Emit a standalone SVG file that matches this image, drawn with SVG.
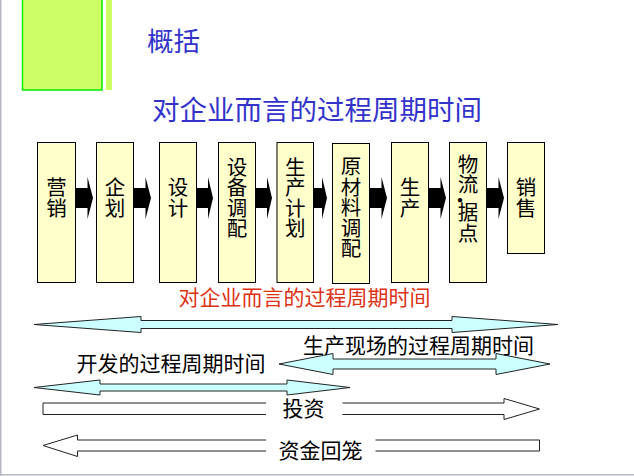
<svg xmlns="http://www.w3.org/2000/svg" width="634" height="476" viewBox="0 0 634 476">
<style>
text{font-family:"Noto Sans CJK SC","Noto Sans",sans-serif;}
.box{fill:#ffffcc;stroke:#000;stroke-width:1;}
.bt{font-size:20.5px;fill:#000;text-anchor:middle;}
.flow{fill:#000;}
.dbl{fill:#ccffff;stroke:#222;stroke-width:1;}
.out{fill:#fff;stroke:#222;stroke-width:1;}
.lbl{font-size:21px;fill:#000;}
.title{fill:#3333cc;}
</style>
<rect x="0" y="0" width="634" height="476" fill="#fff"/>
<line x1="0.75" y1="0" x2="0.75" y2="476" stroke="#b4b8c4" stroke-width="1.5"/>
<line x1="0" y1="474.75" x2="634" y2="474.75" stroke="#b4b8c4" stroke-width="1.5"/>
<g id="deco">
<rect x="22.5" y="-1" width="79.5" height="91" fill="#ccff66" stroke="#00ee00" stroke-width="1.5"/>
<rect x="106" y="0" width="6" height="90" fill="#ccff66"/>
</g>
<g id="titles">
<text class="title" x="147" y="50.5" font-size="26.5">概括</text>
<text class="title" x="152" y="119.5" font-size="27.5">对企业而言的过程周期时间</text>
</g>
<g id="connectors">
<polygon class="flow" points="75.5,188 87.5,188 87.5,177 93,198 87.5,219 87.5,208 75.5,208"/>
<polygon class="flow" points="133.5,188 145.5,188 145.5,177 151,198 145.5,219 145.5,208 133.5,208"/>
<polygon class="flow" points="196.5,188 208,188 208,177 213,198 208,219 208,208 196.5,208"/>
<polygon class="flow" points="255.5,188 267,188 267,177 272,198 267,219 267,208 255.5,208"/>
<polygon class="flow" points="313.5,188 322,188 322,177 327,198 322,219 322,208 313.5,208"/>
<polygon class="flow" points="369.5,188 381.5,188 381.5,177 387,198 381.5,219 381.5,208 369.5,208"/>
<polygon class="flow" points="428.5,188 440.5,188 440.5,177 446,198 440.5,219 440.5,208 428.5,208"/>
<polygon class="flow" points="486.5,188 498.5,188 498.5,177 504,198 498.5,219 498.5,208 486.5,208"/>
</g>
<g id="n1"><rect class="box" x="37.5" y="142.5" width="38" height="140"/><text class="bt"><tspan x="56.5" y="195">营</tspan><tspan x="56.5" y="215.5">销</tspan></text></g>
<g id="n2"><rect class="box" x="96.5" y="142.5" width="37" height="140"/><text class="bt"><tspan x="115" y="195">企</tspan><tspan x="115" y="215.5">划</tspan></text></g>
<g id="n3"><rect class="box" x="159.5" y="142.5" width="37" height="140"/><text class="bt"><tspan x="178" y="195">设</tspan><tspan x="178" y="215.5">计</tspan></text></g>
<g id="n4"><rect class="box" x="218.5" y="142.5" width="37" height="140"/><text class="bt"><tspan x="237" y="174.5">设</tspan><tspan x="237" y="195">备</tspan><tspan x="237" y="215.5">调</tspan><tspan x="237" y="236">配</tspan></text></g>
<g id="n5"><rect class="box" x="277" y="142.5" width="36.5" height="140"/><text class="bt"><tspan x="295.2" y="174.5">生</tspan><tspan x="295.2" y="195">产</tspan><tspan x="295.2" y="215.5">计</tspan><tspan x="295.2" y="236">划</tspan></text></g>
<g id="n6"><rect class="box" x="332.5" y="143.5" width="37" height="140"/><text class="bt"><tspan x="351" y="174">原</tspan><tspan x="351" y="194.5">材</tspan><tspan x="351" y="215">料</tspan><tspan x="351" y="235.5">调</tspan><tspan x="351" y="256">配</tspan></text></g>
<g id="n7"><rect class="box" x="391.5" y="142.5" width="37" height="140"/><text class="bt"><tspan x="410" y="195">生</tspan><tspan x="410" y="215.5">产</tspan></text></g>
<g id="n8"><rect class="box" x="449.5" y="142.5" width="37" height="140"/><text class="bt"><tspan x="468" y="171.5">物</tspan><tspan x="468" y="192">流</tspan><tspan x="460" y="208">·</tspan><tspan x="468" y="220">据</tspan><tspan x="468" y="240.5">点</tspan></text></g>
<g id="n9"><rect class="box" x="507.5" y="142.5" width="37" height="111"/><text class="bt"><tspan x="526" y="195">销</tspan><tspan x="526" y="215.5">售</tspan></text></g>
<g id="spans">
<polygon class="dbl" points="34,324.5 141,316.5 141,320.5 452,320.5 452,316.5 558,324.5 452,332.5 452,328.5 141,328.5 141,332.5"/>
<polygon class="dbl" points="279,364 333,353.5 333,359 496,359 496,353.5 550,364 496,374.5 496,369 333,369 333,374.5"/>
<polygon class="dbl" points="34,387.5 100,380 100,384 287,384 287,380 350,387.5 287,395 287,391 100,391 100,395"/>
<polygon class="out" points="43,403 504,403 504,398.5 539.5,409 504,419.5 504,414.5 43,414.5"/>
<rect x="266" y="396" width="76.5" height="24" fill="#fff"/>
<polygon class="out" points="43,445.5 77.5,435 77.5,440 539.5,440 539.5,451 77.5,451 77.5,456.5"/>
<rect x="266" y="437" width="109.5" height="17" fill="#fff"/>
</g>
<g id="labels">
<text x="178.5" y="305" font-size="21" fill="#dc3214">对企业而言的过程周期时间</text>
<text class="lbl" x="303" y="353">生产现场的过程周期时间</text>
<text class="lbl" x="76.5" y="370.5">开发的过程周期时间</text>
<text class="lbl" x="282.5" y="416">投资</text>
<text class="lbl" x="278.5" y="458">资金回笼</text>
</g>
</svg>
